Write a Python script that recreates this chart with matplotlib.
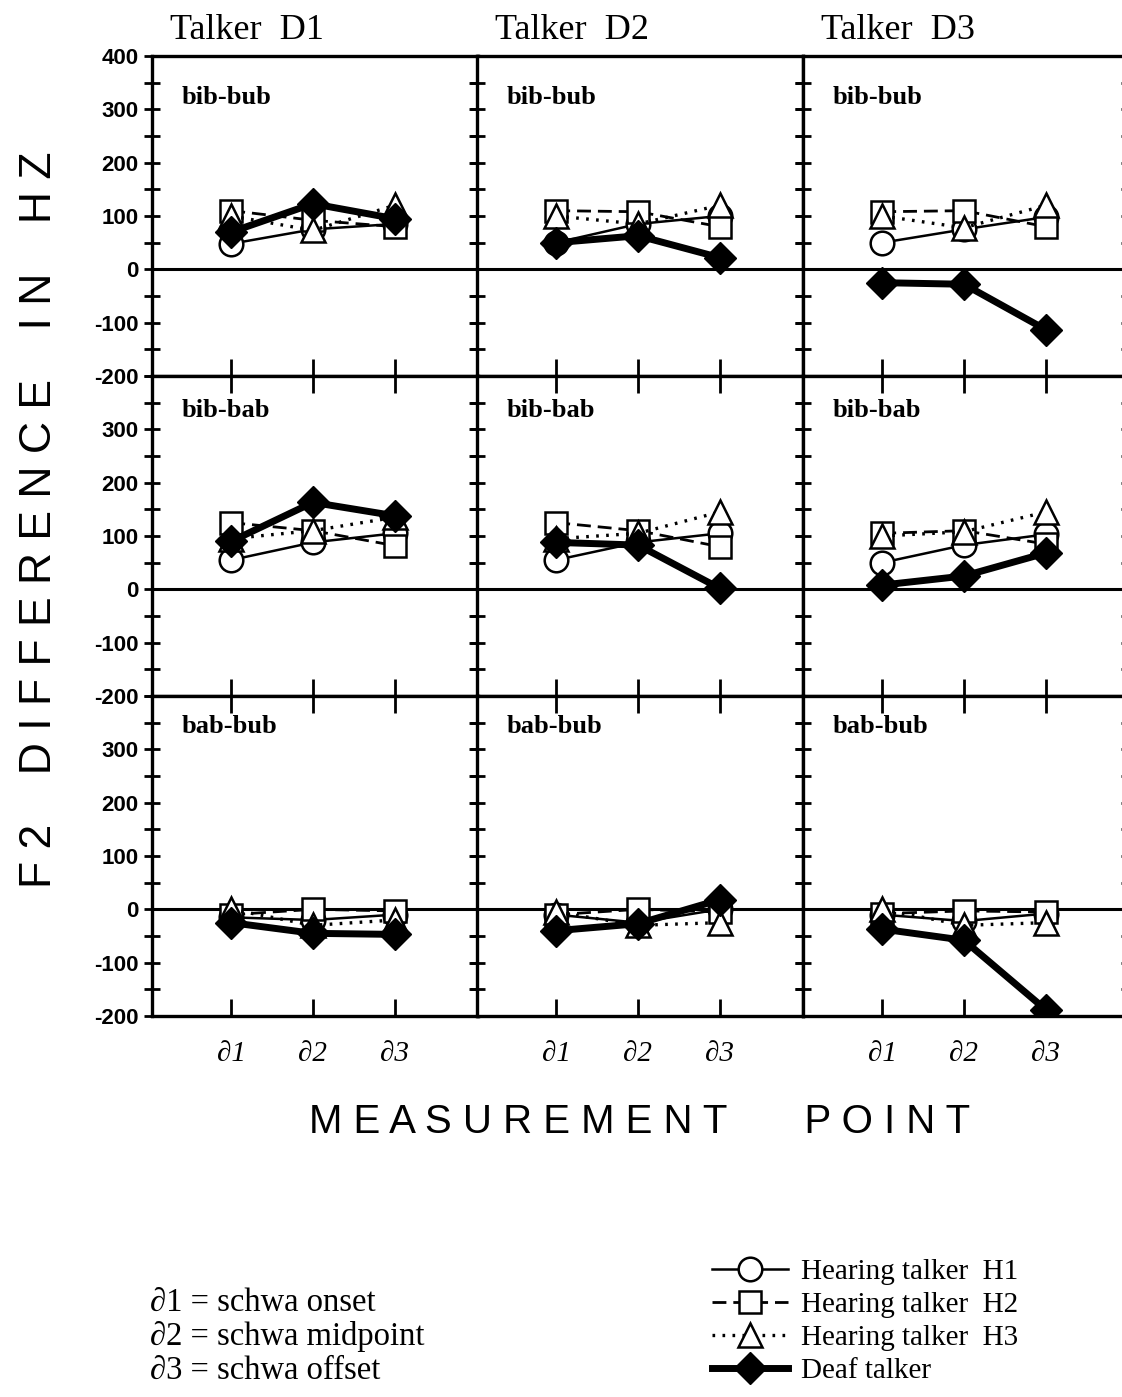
import matplotlib
matplotlib.use('Agg')
from matplotlib import pyplot as plt
from matplotlib.lines import Line2D

SERIF = ['Liberation Serif', 'DejaVu Serif']
SANS = ['Liberation Sans', 'DejaVu Sans']

points = ['∂1', '∂2', '∂3']
talkers = ['Talker  D1', 'Talker  D2', 'Talker  D3']
contrasts = ['bib-bub', 'bib-bab', 'bab-bub']

# F2 difference (Hz): rows = contrasts, columns = deaf talker panel
h1 = [[[48, 75, 85], [50, 85, 100], [50, 75, 98]],
      [[55, 88, 105], [55, 88, 105], [50, 83, 103]],
      [[-15, -20, -10], [-10, -25, 0], [-10, -22, -8]]]
h2 = [[[110, 92, 80], [110, 108, 80], [108, 110, 80]],
      [[125, 110, 82], [125, 110, 80], [105, 110, 85]],
      [[-10, 0, -3], [-10, 0, -5], [-8, -3, -5]]]
h3 = [[[100, 73, 120], [100, 85, 120], [100, 78, 120]],
      [[95, 110, 135], [95, 105, 145], [100, 108, 145]],
      [[0, -30, -20], [-5, -30, -25], [0, -30, -25]]]
deaf = [[[70, 123, 95], [50, 63, 22], [-25, -28, -113]],
        [[90, 163, 138], [88, 83, 2], [8, 25, 68]],
        [[-25, -45, -47], [-40, -27, 18], [-37, -58, -188]]]

W, H = 1122, 1397
fig = plt.figure(figsize=(W / 100, H / 100), dpi=100)

styles = [
    dict(color='black', lw=1.8, ls='-', marker='o', ms=17, mfc='white', mec='black', mew=1.8),
    dict(color='black', lw=2.0, ls=(0, (5, 2.5)), marker='s', ms=15.5, mfc='white', mec='black', mew=1.8),
    dict(color='black', lw=2.4, ls=(0, (0.8, 2.2)), marker='^', ms=17, mfc='white', mec='black', mew=1.8),
    dict(color='black', lw=5, ls='-', marker='D', ms=16, mfc='black', mec='black'),
]

x = [1, 2, 3]
label_off = [41, 34, 30]
col_left = [152, 477, 803]
col_w = 326
row_h = 320

for r in range(3):
    for c in range(3):
        top = 56 + row_h * r
        ax = fig.add_axes([col_left[c] / W, 1 - (top + row_h) / H, col_w / W, row_h / H])
        for i, series in enumerate([h1, h2, h3, deaf]):
            ax.plot(x, series[r][c], zorder=3 + (i == 3), **styles[i])
        ax.axhline(0, color='black', lw=2.2, zorder=2)
        ax.set_xlim(0.03, 4.02)
        ax.set_ylim(-200, 400)
        for s in ax.spines.values():
            s.set_linewidth(2.4)
        ax.set_yticks(range(-200, 401, 50))
        labs = []
        for v in range(-200, 401, 50):
            if v % 100 == 0 and (r == 0 or v < 400):
                labs.append(str(v))
            else:
                labs.append('')
        ax.set_yticklabels(labs, fontfamily=SANS, fontsize=16, fontweight='bold')
        ax.tick_params(axis='y', direction='inout', length=11, width=2.0,
                       left=True, right=True, labelleft=(c == 0), pad=4)
        ax.set_xticks(x)
        ax.set_xticklabels(points, fontfamily=SERIF, fontstyle='italic', fontsize=21)
        ax.tick_params(axis='x', direction='in', length=12, width=2.0,
                       top=(r > 0), bottom=True, labelbottom=(r == 2), pad=18)
        ax.text(30 / col_w, 1 - label_off[r] / row_h, contrasts[r], transform=ax.transAxes,
                fontfamily=SERIF, fontweight='bold', fontsize=19, va='center', ha='left')
        if r == 0:
            ax.text(18 / col_w, 1 + 26 / row_h, talkers[c], transform=ax.transAxes,
                    fontfamily=SERIF, fontsize=26, va='center', ha='left')

fig.text(40 / W, 1 - 520 / H, 'F 2    D I F F E R E N C E    I N    H Z',
         rotation=90, fontfamily=SANS, fontsize=32, ha='center', va='center')
fig.text(640 / W, 1 - 1122 / H, 'M E A S U R E M E N T       P O I N T',
         fontfamily=SANS, fontsize=29, ha='center', va='center')

handles = [Line2D([], [], **st) for st in styles]
names = ['Hearing talker  H1', 'Hearing talker  H2', 'Hearing talker  H3', 'Deaf talker']
fig.legend(handles, names, loc='upper left', bbox_to_anchor=(712 / W, 1 - 1259 / H),
           frameon=False, prop={'family': SERIF, 'size': 21}, handlelength=2.6,
           handletextpad=0.45, labelspacing=0.22, borderaxespad=0, borderpad=0)

notes = ['∂1 = schwa onset', '∂2 = schwa midpoint', '∂3 = schwa offset']
for i, t in enumerate(notes):
    fig.text(150 / W, 1 - (1303 + 34 * i) / H, t, fontfamily=SERIF, fontsize=23.5,
             ha='left', va='center')

fig.savefig('out.png', dpi=100)
